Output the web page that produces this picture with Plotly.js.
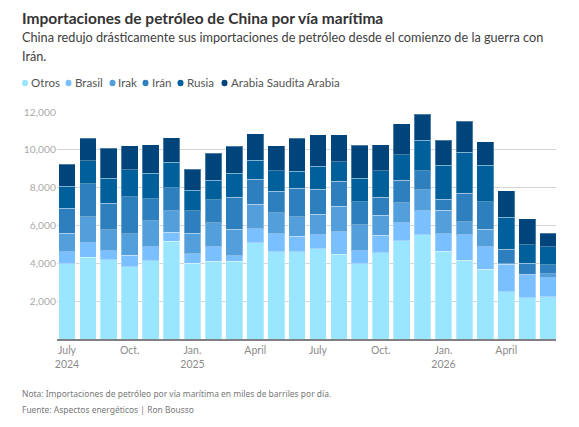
<!DOCTYPE html>
<html>
<head>
<meta charset="utf-8">
<script src="https://cdn.plot.ly/plotly-3.0.1.min.js"></script>
<style>html,body{margin:0;padding:0;background:#fff}</style>
</head>
<body>
<div id="chart" style="width:579px;height:427px"></div>
<script>
const months = ["2024-07","2024-08","2024-09","2024-10","2024-11","2024-12","2025-01","2025-02","2025-03","2025-04","2025-05","2025-06","2025-07","2025-08","2025-09","2025-10","2025-11","2025-12","2026-01","2026-02","2026-03","2026-04","2026-05","2026-06"];
const otros  = [3970,4320,4180,3810,4130,5170,4000,4110,4110,5080,4600,4600,4760,4480,3970,4550,5190,5500,4640,4160,3700,2500,2190,2240];
const brasil = [650,760,480,630,740,470,500,760,300,740,960,830,740,1200,690,930,950,1270,920,1340,1170,1460,1200,990];
const irak   = [980,1390,1110,1120,1370,1130,1090,1270,1390,1300,1110,1020,1100,1340,1370,1060,1060,1110,1250,690,930,30,30,210];
const iran   = [1310,1730,1410,1950,1170,1220,1180,1210,1690,1320,1140,1520,1320,1320,1220,950,1180,1010,580,1520,1450,760,580,490];
const rusia  = [1170,1220,1320,1430,1360,1350,1100,1040,1270,1010,1090,900,1210,1040,1250,1410,1350,1610,1800,2170,1940,1690,970,950];
const arabia = [1160,1200,1590,1270,1490,1290,1100,1430,1430,1410,1310,1750,1660,1430,1730,1360,1650,1390,1320,1620,1250,1390,1380,710];
const seriesNames = ["Otros","Brasil","Irak","Irán","Rusia","Arabia Saudita Arabia"];
const seriesValues = [otros,brasil,irak,iran,rusia,arabia];
const colors = ["#9ae5ff","#7abfff","#529fdc","#2d80bd","#00609c","#00447c"];
const tickCats = ["2024-07","2024-10","2025-01","2025-04","2025-07","2025-10","2026-01","2026-04"];
const tickLabels = ["July<br>2024","Oct.","Jan.<br>2025","April","July","Oct.","Jan.<br>2026","April"];
const yTicks = [0,2000,4000,6000,8000,10000,12000];
const yTickLabels = ["","2,000","4,000","6,000","8,000","10,000","12,000"];
const titleText = "Importaciones de petróleo de China por vía marítima";
const subtitleLine1 = "China redujo drásticamente sus importaciones de petróleo desde el comienzo de la guerra con";
const subtitleLine2 = "Irán.";
const noteText = "Nota: Importaciones de petróleo por vía marítima en miles de barriles por día.";
const sourceText = "Fuente: Aspectos energéticos | Ron Bousso";

const W = 579, H = 427, L = 57, R = 556, T = 112, B = 339;
const px = v => (v - L) / (R - L);
const py = v => (B - v) / (B - T);
const FONT = "Lato, 'Noto Sans', sans-serif";
const SMALL = "'Noto Sans', sans-serif";

const traces = seriesNames.map((name, i) => ({
  type: "bar", name, x: months, y: seriesValues[i],
  marker: {color: colors[i], line: {color: "rgba(255,255,255,0.3)", width: 1}},
  showlegend: false,
  hovertemplate: "%{x}<br>" + name + ": %{y:,}<extra></extra>"
}));

const legendDot = [25, 68.5, 112.5, 145.5, 180.5, 224.5];
const legendText = [30, 73.5, 117, 150.5, 186, 230];

const annotations = [
  {text: "<b>" + titleText + "</b>", x: px(22), y: py(17.5), size: 15.5, color: "#333333", f: FONT},
  {text: subtitleLine1, x: px(22), y: py(36.5), size: 12.7, color: "#404040", f: FONT},
  {text: subtitleLine2, x: px(22), y: py(56), size: 12.7, color: "#404040", f: FONT},
  {text: noteText, x: px(22), y: py(393), size: 8.45, color: "#777777", f: SMALL},
  {text: sourceText, x: px(22), y: py(409), size: 8.45, color: "#777777", f: SMALL}
].map(a => ({xref: "paper", yref: "paper", x: a.x, y: a.y, xanchor: "left", yanchor: "middle",
  align: "left", showarrow: false, text: a.text, font: {family: a.f, size: a.size, color: a.color},
  borderpad: 0, borderwidth: 0}));

seriesNames.forEach((n, i) => annotations.push({
  xref: "paper", yref: "paper", x: px(legendText[i]), y: py(82.5), xanchor: "left", yanchor: "middle",
  showarrow: false, text: n, font: {family: FONT, size: 11.6, color: "#555555"}, borderpad: 0
}));

const shapes = seriesNames.map((n, i) => ({
  type: "circle", xref: "paper", yref: "paper",
  x0: px(legendDot[i] - 3), x1: px(legendDot[i] + 3), y0: py(83 + 3.3), y1: py(83 - 3.3),
  fillcolor: colors[i], line: {width: 0}
}));

const layout = {
  width: W, height: H, barmode: "stack", bargap: 0.2,
  margin: {l: L, r: W - R, t: T, b: H - B, pad: 0},
  paper_bgcolor: "#fff", plot_bgcolor: "#fff",
  font: {family: FONT, size: 10.5, color: "#999999"},
  xaxis: {type: "category", categoryorder: "array", categoryarray: months,
    range: [-0.478, 23.38], tickmode: "array", tickvals: tickCats, ticktext: tickLabels,
    ticks: "", ticklabelstandoff: 1, showgrid: false, showline: true, linecolor: "#808080", linewidth: 1.5, zeroline: false,
    tickfont: {family: FONT, size: 10.5, color: "#8c8c8c"}},
  yaxis: {range: [0, 12000], tickmode: "array", tickvals: yTicks, ticktext: yTickLabels,
    ticks: "", showgrid: true, gridcolor: "#d4d4d4", gridwidth: 1, zeroline: false, showline: false,
    tickfont: {family: FONT, size: 10.3, color: "#aaaaaa"}},
  annotations, shapes, showlegend: false
};
Plotly.newPlot("chart", traces, layout, {staticPlot: true, displayModeBar: false});
</script>
</body>
</html>
